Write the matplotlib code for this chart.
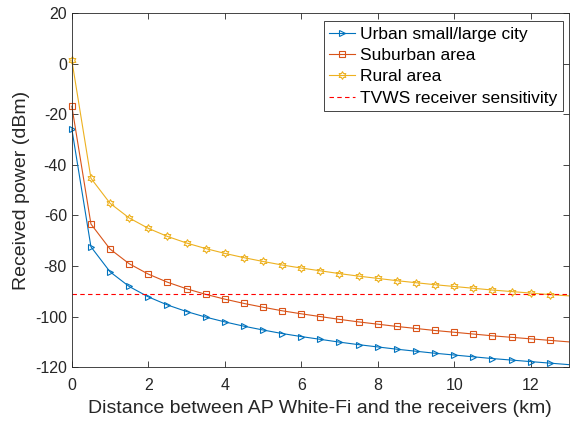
import numpy as np
import matplotlib
matplotlib.use("Agg")
import matplotlib.pyplot as plt
from matplotlib.path import Path

plt.rcParams["font.family"] = ["Liberation Sans", "DejaVu Sans"]
plt.rcParams["axes.unicode_minus"] = False

# ------------------------------------------------------------
# data (distance in km, power in dBm)
# ------------------------------------------------------------
distance = [0, 0.5, 1, 1.5, 2, 2.5, 3, 3.5, 4, 4.5, 5, 5.5, 6, 6.5,
            7, 7.5, 8, 8.5, 9, 9.5, 10, 10.5, 11, 11.5, 12, 12.5, 13]

urban = [-25.8, -72.4, -82.3, -88.1, -92.2, -95.4, -98.0, -100.2, -102.1,
         -103.8, -105.3, -106.7, -107.9, -109.0, -110.1, -111.1, -112.0,
         -112.9, -113.7, -114.5, -115.2, -115.9, -116.6, -117.2, -117.8,
         -118.4, -119.0]

suburban = [-16.8, -63.4, -73.3, -79.1, -83.2, -86.4, -89.0, -91.2, -93.1,
            -94.8, -96.3, -97.7, -98.9, -100.0, -101.1, -102.1, -103.0,
            -103.9, -104.7, -105.5, -106.2, -106.9, -107.6, -108.2, -108.8,
            -109.4, -110.0]

rural = [1.4, -45.3, -55.2, -61.0, -65.1, -68.3, -70.9, -73.1, -75.0,
         -76.7, -78.2, -79.6, -80.8, -81.9, -83.0, -84.0, -84.9, -85.8,
         -86.6, -87.4, -88.1, -88.8, -89.5, -90.1, -90.7, -91.3, -91.8]

sensitivity = -91.2

labels = ["Urban small/large city", "Suburban area", "Rural area",
          "TVWS receiver sensitivity"]

# MATLAB default colour order
BLUE, ORANGE, YELLOW = "#0072BD", "#D95319", "#EDB120"

# six-pointed star (MATLAB 'hexagram')
ang = np.pi / 2 + np.arange(12) * np.pi / 6
rad = np.where(np.arange(12) % 2 == 0, 1.0, 1 / np.sqrt(3))
verts = np.column_stack([rad * np.cos(ang), rad * np.sin(ang)])
hexagram = Path(np.vstack([verts, verts[:1]]), closed=True)

fig = plt.figure(figsize=(5.70, 4.23), dpi=100)
ax = fig.add_axes([0.126, 0.132, 0.872, 0.837])

common = dict(lw=0.8, mfc="none", mew=0.8, markevery=slice(0, -1), clip_on=False)
ax.plot(distance, urban, color=BLUE, marker=">", ms=5, label=labels[0], **common)
ax.plot(distance, suburban, color=ORANGE, marker="s", ms=4.2, label=labels[1], **common)
ax.plot(distance, rural, color=YELLOW, marker=hexagram, ms=5.5, label=labels[2], **common)
ax.axhline(sensitivity, color="#FF0000", ls=(0, (4, 3)), lw=0.8, label=labels[3])

ax.set_xlim(0, 13)
ax.set_ylim(-120, 20)
ax.set_xticks(np.arange(0, 13, 2))
ax.set_yticks(np.arange(-120, 21, 20))
ax.tick_params(direction="in", top=True, right=True, labelsize=11.5,
               colors="#262626", length=4, width=0.6)
ax.tick_params(axis="x", pad=8)
for s in ax.spines.values():
    s.set_color("#262626")
    s.set_linewidth(0.6)

ax.set_xlabel("Distance between AP White-Fi and the receivers (km)",
              fontsize=14, color="#262626", labelpad=5)
ax.set_ylabel("Received power (dBm)", fontsize=14, color="#262626", labelpad=3.5)

leg = ax.legend(loc="upper right", bbox_to_anchor=(0.988, 0.977), fontsize=12.5,
                fancybox=False, framealpha=1, edgecolor="#262626",
                handlelength=1.5, handletextpad=0.3, labelspacing=0.36,
                borderpad=0.3, borderaxespad=0)
leg.get_frame().set_linewidth(0.6)

fig.savefig("out.png", dpi=100)
